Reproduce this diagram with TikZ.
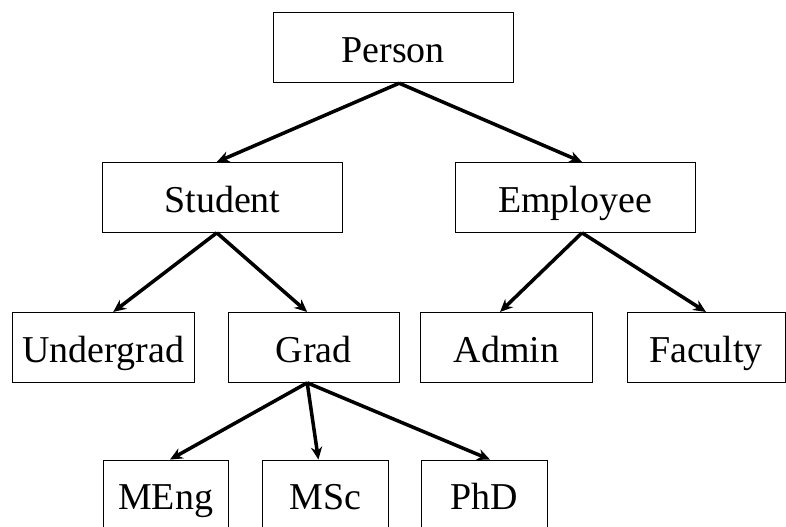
\documentclass[tikz,border=0pt]{standalone}
\usepackage{fontspec}
\setmainfont{Liberation Serif}
\usetikzlibrary{arrows.meta,positioning}

\begin{document}
\begin{tikzpicture}[x=1cm, y=1cm,
  %% boxes: all 1.75 cm high, widths set per node
  box/.style={draw, line width=0.6pt, minimum height=1.75cm, inner sep=0pt,
              text height=0.95cm, text depth=0.2cm,
              font=\fontsize{27}{32}\selectfont},
  %% inheritance arrows
  arr/.style={-{Stealth[length=9pt, width=8pt]}, line width=2.5pt}
]
\useasboundingbox (0,0) rectangle (19.65,13.175);

%% -- Row 1 -------------------------------------------------------------
\node[box, minimum width=6.0cm]  (person)   at ( 9.83, 11.98) {Person};

%% -- Row 2 -------------------------------------------------------------
\node[box, minimum width=5.98cm] (student)  at ( 5.56,  8.24) {Student};
\node[box, minimum width=6.0cm]  (employee) at (14.38,  8.24) {Employee};

%% -- Row 3 -------------------------------------------------------------
\node[box, minimum width=4.55cm] (undergrad) at ( 2.58, 4.49) {Undergrad};
\node[box, minimum width=4.28cm] (grad)      at ( 7.84, 4.49) {Grad};
\node[box, minimum width=4.28cm] (admin)     at (12.66, 4.49) {Admin};
\node[box, minimum width=3.95cm] (faculty)   at (17.65, 4.49) {Faculty};

%% -- Row 4 (cut off by the page edge) ----------------------------------
\node[box, minimum width=3.13cm] (meng) at ( 4.14, 0.80) {MEng};
\node[box, minimum width=3.15cm] (msc)  at ( 8.13, 0.80) {MSc};
\node[box, minimum width=3.15cm] (phd)  at (12.10, 0.80) {PhD};

%% -- Arrows ------------------------------------------------------------
\draw[arr] ([xshift=0.15cm]person.south) -- ([xshift=-0.14cm]student.north);
\draw[arr] ([xshift=0.15cm]person.south) -- ([xshift=0.17cm]employee.north);

\draw[arr] ([xshift=-0.14cm]student.south) -- ([xshift=0.25cm]undergrad.north);
\draw[arr] ([xshift=-0.14cm]student.south) -- ([xshift=-0.16cm]grad.north);

\draw[arr] ([xshift=0.17cm]employee.south) -- ([xshift=-0.16cm]admin.north);
\draw[arr] ([xshift=0.17cm]employee.south) -- (faculty.north);

\draw[arr] ([xshift=-0.16cm]grad.south) -- ([xshift=0.11cm]meng.north);
\draw[arr] ([xshift=-0.16cm]grad.south) -- ([xshift=-0.17cm]msc.north);
\draw[arr] ([xshift=-0.16cm]grad.south) -- ([xshift=0.15cm]phd.north);

\end{tikzpicture}
\end{document}
